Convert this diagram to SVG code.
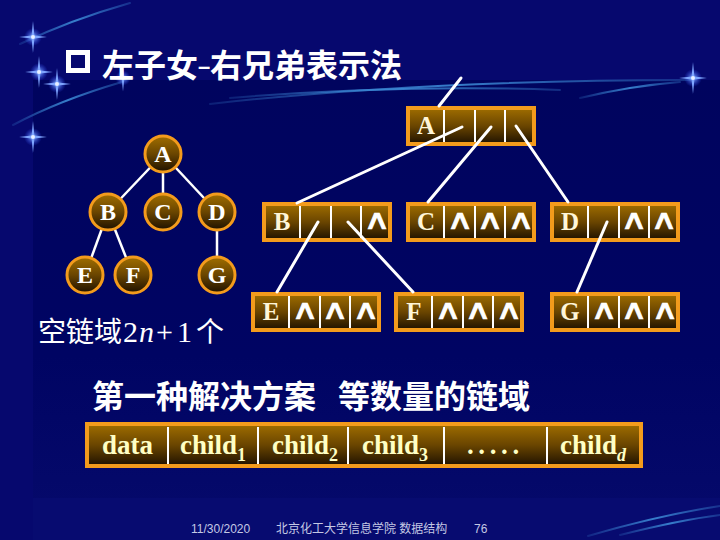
<svg xmlns="http://www.w3.org/2000/svg" xmlns:xlink="http://www.w3.org/1999/xlink" width="720" height="540" viewBox="0 0 720 540">
<defs>
<style>
.nodebox{fill:url(#gold);stroke:#F39B1C;stroke-width:4}
.circ{fill:url(#gold);stroke:#F39B1C;stroke-width:3}
.div{stroke:#FFFFFF;stroke-width:2}
.lnk{stroke:#FFFFFF;stroke-width:3;stroke-linecap:round;fill:none}
.edge{stroke:#FFFFFF;stroke-width:2.5;fill:none}
.rl{font-family:"Liberation Serif","Times New Roman",serif;font-size:25px;font-weight:bold;fill:#FFF6D8;text-anchor:middle}
.cl{font-family:"Liberation Serif","Times New Roman",serif;font-size:24px;font-weight:bold;fill:#FFFFFF;text-anchor:middle}
.nil{font-family:"DejaVu Sans",sans-serif;font-size:25px;fill:#FFFFFF;stroke:#FFFFFF;stroke-width:0.6;text-anchor:middle}
.fld{font-family:"Liberation Serif","Times New Roman",serif;font-size:27px;font-weight:bold;fill:#FFFFC4}
.sub{font-size:18px}
.cjkb{font-family:"Noto Sans CJK SC",sans-serif;font-weight:bold;fill:#FFFFFF}
.lat{font-family:"Liberation Serif","Times New Roman",serif;font-size:30px}
.foot{font-family:"Liberation Sans","Noto Sans CJK SC",sans-serif;font-size:12px;fill:#C4C8E4}
.streak{fill:none;stroke:url(#streakg);stroke-width:2;stroke-linecap:round}
.starp{fill:#7FA6FF}
</style>
<linearGradient id="gold" x1="0" y1="0" x2="0" y2="1">
<stop offset="0" stop-color="#A06E00"/>
<stop offset="0.5" stop-color="#6A4500"/>
<stop offset="1" stop-color="#1E1100"/>
</linearGradient>
<linearGradient id="bg" x1="0" y1="0" x2="0" y2="1">
<stop offset="0" stop-color="#00045E"/>
<stop offset="0.6" stop-color="#000463"/>
<stop offset="1" stop-color="#060A6C"/>
</linearGradient>
<linearGradient id="streakg" x1="0" y1="0" x2="1" y2="0">
<stop offset="0" stop-color="#3C8AD6" stop-opacity="0.2"/>
<stop offset="0.5" stop-color="#3C8AD6" stop-opacity="0.9"/>
<stop offset="1" stop-color="#3C8AD6" stop-opacity="0.3"/>
</linearGradient>
<radialGradient id="glow">
<stop offset="0" stop-color="#CFE0FF" stop-opacity="1"/>
<stop offset="0.3" stop-color="#6F98FF" stop-opacity="0.7"/>
<stop offset="1" stop-color="#3050FF" stop-opacity="0"/>
</radialGradient>
<g id="star">
<circle r="9" fill="url(#glow)"/>
<path class="starp" d="M0,-16 L1.4,-1.4 L14,0 L1.4,1.4 L0,16 L-1.4,1.4 L-14,0 L-1.4,-1.4 Z"/>
<circle r="2" fill="#E8F0FF"/>
</g>
<g id="rec">
<rect class="nodebox" x="2" y="2" width="126" height="36"/>
<line class="div" x1="38" y1="4" x2="38" y2="36"/>
<line class="div" x1="69" y1="4" x2="69" y2="36"/>
<line class="div" x1="99" y1="4" x2="99" y2="36"/>
</g>
</defs>

<g id="background">
<rect x="0" y="0" width="720" height="540" fill="#06086E"/>
<rect x="33" y="80" width="687" height="460" fill="url(#bg)"/>
<rect x="33" y="498" width="687" height="42" fill="#070B70"/>
<path class="streak" d="M20,44 Q70,20 130,3"/>
<path class="streak" d="M13,125 Q60,100 122,82"/>
<path class="streak" d="M210,104 Q420,80 690,80"/>
<path class="streak" d="M230,98 Q400,84 560,90"/>
<path class="streak" d="M580,98 Q630,86 680,82"/>
<path class="streak" d="M588,536 Q660,515 720,506"/>
<path class="streak" d="M620,535 Q680,520 720,515"/>
<use xlink:href="#star" x="33" y="37"/>
<use xlink:href="#star" x="39" y="72"/>
<use xlink:href="#star" x="57" y="84"/>
<use xlink:href="#star" x="123" y="78" transform="translate(123 78) scale(0.85) translate(-123 -78)"/>
<use xlink:href="#star" x="33" y="137"/>
<use xlink:href="#star" x="693" y="78"/>
</g>

<g id="title">
<rect x="68.5" y="52.5" width="19" height="18" fill="none" stroke="#FFFFFF" stroke-width="5"/>
<text class="cjkb" font-size="32" x="102" y="77">左子女<tspan font-family="Liberation Sans, sans-serif" font-size="22" x="198" dy="-3">–</tspan><tspan x="210" dy="3">右兄弟表示法</tspan></text>
</g>

<g id="tree-edges">
<line class="edge" x1="163" y1="154" x2="108" y2="212"/>
<line class="edge" x1="163" y1="154" x2="163" y2="212"/>
<line class="edge" x1="163" y1="154" x2="217" y2="212"/>
<line class="edge" x1="108" y1="212" x2="85" y2="275"/>
<line class="edge" x1="108" y1="212" x2="133" y2="275"/>
<line class="edge" x1="217" y1="212" x2="217" y2="275"/>
</g>
<g id="tA"><circle class="circ" cx="163" cy="154" r="18"/><text class="cl" x="163" y="162">A</text></g>
<g id="tB"><circle class="circ" cx="108" cy="212" r="18"/><text class="cl" x="108" y="220">B</text></g>
<g id="tC"><circle class="circ" cx="163" cy="212" r="18"/><text class="cl" x="163" y="220">C</text></g>
<g id="tD"><circle class="circ" cx="217" cy="212" r="18"/><text class="cl" x="217" y="220">D</text></g>
<g id="tE"><circle class="circ" cx="85" cy="275" r="18"/><text class="cl" x="85" y="283">E</text></g>
<g id="tF"><circle class="circ" cx="133" cy="275" r="18"/><text class="cl" x="133" y="283">F</text></g>
<g id="tG"><circle class="circ" cx="217" cy="275" r="18"/><text class="cl" x="217" y="283">G</text></g>

<g id="nullcount">
<text font-family="Noto Sans CJK SC, sans-serif" font-size="28" fill="#FFFFFF" y="342"><tspan x="38">空链域</tspan><tspan class="lat" x="123">2</tspan><tspan class="lat" x="139" font-style="italic">n</tspan><tspan class="lat" x="156">+</tspan><tspan class="lat" x="177">1</tspan><tspan x="196">个</tspan></text>
</g>

<g id="rA"><use xlink:href="#rec" x="406" y="106"/><text class="rl" x="426" y="134">A</text></g>
<g id="rB"><use xlink:href="#rec" x="262" y="202"/><text class="rl" x="282" y="230">B</text><text class="nil" transform="translate(377 229) scale(1.5 1.1)">∧</text></g>
<g id="rC"><use xlink:href="#rec" x="406" y="202"/><text class="rl" x="426" y="230">C</text><text class="nil" transform="translate(460 229) scale(1.5 1.1)">∧</text><text class="nil" transform="translate(490 229) scale(1.5 1.1)">∧</text><text class="nil" transform="translate(521 229) scale(1.5 1.1)">∧</text></g>
<g id="rD"><use xlink:href="#rec" x="550" y="202"/><text class="rl" x="570" y="230">D</text><text class="nil" transform="translate(634 229) scale(1.5 1.1)">∧</text><text class="nil" transform="translate(664 229) scale(1.5 1.1)">∧</text></g>
<g id="rE"><use xlink:href="#rec" x="251" y="292"/><text class="rl" x="271" y="320">E</text><text class="nil" transform="translate(305 319) scale(1.5 1.1)">∧</text><text class="nil" transform="translate(335 319) scale(1.5 1.1)">∧</text><text class="nil" transform="translate(366 319) scale(1.5 1.1)">∧</text></g>
<g id="rF"><use xlink:href="#rec" x="394" y="292"/><text class="rl" x="414" y="320">F</text><text class="nil" transform="translate(448 319) scale(1.5 1.1)">∧</text><text class="nil" transform="translate(478 319) scale(1.5 1.1)">∧</text><text class="nil" transform="translate(509 319) scale(1.5 1.1)">∧</text></g>
<g id="rG"><use xlink:href="#rec" x="550" y="292"/><text class="rl" x="570" y="320">G</text><text class="nil" transform="translate(604 319) scale(1.5 1.1)">∧</text><text class="nil" transform="translate(634 319) scale(1.5 1.1)">∧</text><text class="nil" transform="translate(665 319) scale(1.5 1.1)">∧</text></g>

<g id="connectors">
<line class="lnk" x1="461" y1="78" x2="439" y2="106"/>
<line class="lnk" x1="462" y1="127" x2="297" y2="203"/>
<line class="lnk" x1="491" y1="127" x2="428" y2="202"/>
<line class="lnk" x1="516" y1="126" x2="568" y2="202"/>
<line class="lnk" x1="318" y1="222" x2="277" y2="292"/>
<line class="lnk" x1="348" y1="222" x2="413" y2="292"/>
<line class="lnk" x1="607" y1="222" x2="577" y2="292"/>
</g>

<g id="heading">
<text class="cjkb" font-size="32" y="408"><tspan x="92">第一种解决方案</tspan><tspan x="338">等数量的链域</tspan></text>
</g>

<g id="fields">
<rect class="nodebox" x="87" y="424" width="554" height="42"/>
<line class="div" x1="168" y1="427" x2="168" y2="464"/>
<line class="div" x1="258" y1="427" x2="258" y2="464"/>
<line class="div" x1="348" y1="427" x2="348" y2="464"/>
<line class="div" x1="444" y1="427" x2="444" y2="464"/>
<line class="div" x1="547" y1="427" x2="547" y2="464"/>
<text class="fld" x="102" y="454">data</text>
<text class="fld" x="180" y="454">child<tspan class="sub" dy="7">1</tspan></text>
<text class="fld" x="272" y="454">child<tspan class="sub" dy="7">2</tspan></text>
<text class="fld" x="362" y="454">child<tspan class="sub" dy="7">3</tspan></text>
<text class="fld" x="467" y="454" letter-spacing="4.6">.....</text>
<text class="fld" x="560" y="454">child<tspan class="sub" dy="7" font-style="italic">d</tspan></text>
</g>

<g id="footer">
<text class="foot" x="191" y="533">11/30/2020</text>
<text class="foot" x="276" y="533">北京化工大学信息学院 数据结构</text>
<text class="foot" x="474" y="533">76</text>
</g>
</svg>
